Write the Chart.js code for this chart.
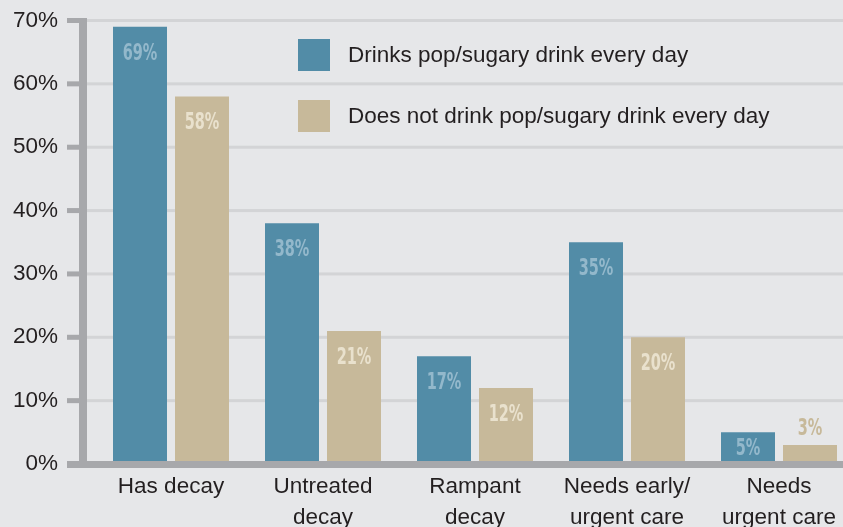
<!DOCTYPE html>
<html lang="en">
<head>
  <meta charset="UTF-8">
  <title>Pop / sugary drinks and tooth decay</title>
  <script src="https://cdn.jsdelivr.net/npm/chart.js"></script>
  <style>
    html, body {
      margin: 0;
      padding: 0;
      background: #e6e7e9;
      overflow: hidden;
    }
    #wrap {
      width: 870px;
      height: 527px;
    }
  </style>
</head>
<body>
  <div id="wrap"><canvas id="decayChart" width="870" height="527"></canvas></div>

  <script>
    // Data
    const categories = [['Has decay'], ['Untreated', 'decay'], ['Rampant', 'decay'], ['Needs early/', 'urgent care'], ['Needs', 'urgent care']];
    const drinksDaily = [69, 38, 17, 35, 5];
    const notDaily = [58, 21, 12, 20, 3];
    const yTicks = [0, 10, 20, 30, 40, 50, 60, 70];
    const seriesNames = ['Drinks pop/sugary drink every day', 'Does not drink pop/sugary drink every day'];

    const BG = '#e6e7e9';
    const GRID = '#d3d4d6';
    const AXIS = '#a7a8ab';
    const TEXT = '#231f20';
    const TEAL = '#528ca7';
    const TAN = '#c7b99a';
    const TEAL_LABEL = '#93b8cb';
    const TAN_LABEL = '#e9e1cd';

    const textFont = '"Liberation Sans", Arial, Helvetica, sans-serif';
    const labelFont = '"DejaVu Sans Condensed", "DejaVu Sans", sans-serif';

    // background, gridlines, axis lines, value labels and legend
    const decor = {
      id: 'decor',
      beforeDraw(chart) {
        const ctx = chart.ctx;
        ctx.save();
        ctx.fillStyle = BG;
        ctx.fillRect(0, 0, chart.width, chart.height);
        ctx.restore();
      },
      beforeDatasetsDraw(chart) {
        const ctx = chart.ctx;
        const y = chart.scales.y;
        ctx.save();
        yTicks.forEach(v => {
          const py = y.getPixelForValue(v);
          ctx.fillStyle = GRID;
          ctx.fillRect(87, py - 1.5, chart.width, 3);
          ctx.fillStyle = AXIS;
          ctx.fillRect(67, py - 2.5, 14, 5);
        });
        ctx.restore();
      },
      afterDatasetsDraw(chart) {
        const ctx = chart.ctx;
        const y = chart.scales.y;
        const zero = y.getPixelForValue(0);
        const top = y.getPixelForValue(70);
        ctx.save();
        // axis lines
        ctx.fillStyle = AXIS;
        ctx.fillRect(79, top - 2.5, 8, zero - top + 6);
        ctx.fillRect(67, zero - 3, chart.width, 7);

        // value labels (squeezed sideways to look condensed)
        ctx.font = 'bold 23px ' + labelFont;
        ctx.textAlign = 'center';
        ctx.textBaseline = 'middle';
        chart.data.datasets.forEach((ds, di) => {
          chart.getDatasetMeta(di).data.forEach((bar, i) => {
            const h = bar.base - bar.y;
            let cy, color;
            if (h >= 25) {
              cy = bar.y + Math.min(27, h / 2 + 1);
              color = di === 0 ? TEAL_LABEL : TAN_LABEL;
            } else {
              cy = bar.y - 16;
              color = ds.backgroundColor;
            }
            ctx.save();
            ctx.translate(bar.x, cy);
            ctx.scale(0.7, 1);
            ctx.fillStyle = color;
            ctx.fillText(ds.data[i] + '%', 0, 0);
            ctx.restore();
          });
        });

        // legend
        ctx.font = '22.5px ' + textFont;
        ctx.textAlign = 'left';
        chart.data.datasets.forEach((ds, di) => {
          const sq = 39 + di * 61;
          ctx.fillStyle = ds.backgroundColor;
          ctx.fillRect(298, sq, 32, 32);
          ctx.fillStyle = TEXT;
          ctx.fillText(ds.label, 348, sq + 17);
        });
        ctx.restore();
      }
    };

    const chart = new Chart(document.getElementById('decayChart'), {
      type: 'bar',
      data: {
        labels: categories,
        datasets: [{
          label: seriesNames[0],
          data: drinksDaily,
          backgroundColor: TEAL
        }, {
          label: seriesNames[1],
          data: notDaily,
          backgroundColor: TAN
        }]
      },
      options: {
        responsive: false,
        animation: false,
        devicePixelRatio: 1,
        categoryPercentage: 124 / 152,
        barPercentage: 54 / 62,
        layout: {
          padding: { top: 20.5, right: 15, bottom: 0, left: 0 }
        },
        plugins: {
          legend: { display: false },
          tooltip: { enabled: false }
        },
        scales: {
          x: {
            grid: { display: false, drawTicks: false },
            border: { display: false },
            ticks: {
              color: TEXT,
              padding: 7,
              maxRotation: 0,
              autoSkip: false,
              font: { family: textFont, size: 22.5, lineHeight: 1.38 }
            },
            afterFit(scale) {
              scale.height = 63;
              scale.paddingTop = 0;
            }
          },
          y: {
            min: 0,
            max: 70,
            grid: { display: false, drawTicks: false },
            border: { display: false },
            ticks: {
              stepSize: 10,
              color: TEXT,
              padding: 37,
              font: { family: textFont, size: 22.5 },
              callback: v => v + '%'
            },
            afterFit(scale) {
              scale.width = 95;
              scale.paddingTop = 0;
              scale.paddingBottom = 0;
            }
          }
        }
      },
      plugins: [decor]
    });
  </script>
</body>
</html>
